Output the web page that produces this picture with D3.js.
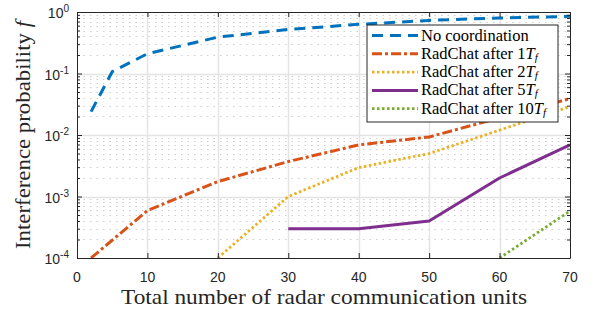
<!DOCTYPE html>
<html>
<head>
<meta charset="utf-8">
<script src="https://cdn.jsdelivr.net/npm/d3@7"></script>
<style>
  body { margin: 0; background: #fff; }
  svg { display: block; }
</style>
</head>
<body>
<div id="chart"></div>
<script>
// series data (x = number of units, y = interference probability)
const noCoordX = [2, 5, 10, 20, 30, 40, 50, 60, 70];
const noCoordY = [0.024, 0.107, 0.21, 0.39, 0.52, 0.63, 0.73, 0.80, 0.85];

const rc1X = [2, 10, 20, 30, 40, 50, 60, 70];
const rc1Y = [1e-4, 5.9e-4, 1.75e-3, 3.7e-3, 6.9e-3, 9.3e-3, 0.019, 0.039];

const rc2X = [20, 30, 40, 50, 60, 70];
const rc2Y = [1e-4, 1.0e-3, 2.95e-3, 5.0e-3, 0.012, 0.029];

const rc5X = [30, 40, 50, 60, 70];
const rc5Y = [3.0e-4, 3.0e-4, 4.0e-4, 2.0e-3, 6.9e-3];

const rc10X = [60, 70];
const rc10Y = [1e-4, 5.8e-4];

const xTicks = [0, 10, 20, 30, 40, 50, 60, 70];
const yExponents = [0, -1, -2, -3, -4];
const legendLabels = ['No coordination', 'RadChat after 1', 'RadChat after 2', 'RadChat after 5', 'RadChat after 10'];

const series = [
  { xs: noCoordX, ys: noCoordY, color: '#0072BD', dash: '11 7', width: 3, label: legendLabels[0], tf: false },
  { xs: rc1X, ys: rc1Y, color: '#D95319', dash: '10 3 3 3', width: 3, label: legendLabels[1], tf: true },
  { xs: rc2X, ys: rc2Y, color: '#EDB120', dash: '2.5 2.5', width: 2.8, label: legendLabels[2], tf: true },
  { xs: rc5X, ys: rc5Y, color: '#7E2F8E', dash: null, width: 3, label: legendLabels[3], tf: true },
  { xs: rc10X, ys: rc10Y, color: '#77AC30', dash: '2.5 2.5', width: 2.8, label: legendLabels[4], tf: true }
];

const W = 592, H = 311;
const margin = { top: 12, right: 22, bottom: 53, left: 77 };
const w = W - margin.left - margin.right;
const h = H - margin.top - margin.bottom;

const x = d3.scaleLinear().domain([0, 70]).range([0, w]);
const y = d3.scaleLog().domain([1e-4, 1]).range([h, 0]);

const svg = d3.select('#chart').append('svg').attr('width', W).attr('height', H);

svg.append('defs').append('clipPath').attr('id', 'plot-clip')
  .append('rect').attr('width', w).attr('height', h);

const g = svg.append('g').attr('transform', `translate(${margin.left},${margin.top})`);

// minor horizontal grid (dotted)
const minorVals = [];
yExponents.slice(1).forEach((e) => {
  for (let k = 2; k <= 9; k++) minorVals.push(k * Math.pow(10, e));
});
g.append('g').selectAll('line').data(minorVals).join('line')
  .attr('x1', 0).attr('x2', w)
  .attr('y1', (d) => Math.round(y(d)) + 0.5).attr('y2', (d) => Math.round(y(d)) + 0.5)
  .attr('stroke', '#cfcfcf').attr('stroke-width', 1).attr('stroke-dasharray', '1.5 5');

// major grid
g.append('g').selectAll('line').data(yExponents.slice(1, -1)).join('line')
  .attr('x1', 0).attr('x2', w)
  .attr('y1', (d) => Math.round(y(Math.pow(10, d))) + 0.5).attr('y2', (d) => Math.round(y(Math.pow(10, d))) + 0.5)
  .attr('stroke', '#e4e4e4').attr('stroke-width', 1.5);
g.append('g').selectAll('line').data(xTicks.slice(1, -1)).join('line')
  .attr('y1', 0).attr('y2', h)
  .attr('x1', (d) => Math.round(x(d)) + 0.5).attr('x2', (d) => Math.round(x(d)) + 0.5)
  .attr('stroke', '#e4e4e4').attr('stroke-width', 1.5);

// lines
const lineGen = d3.line().x((d) => x(d[0])).y((d) => y(d[1]));
const lines = g.append('g').attr('clip-path', 'url(#plot-clip)');
series.forEach((s) => {
  lines.append('path')
    .datum(s.xs.map((v, i) => [v, s.ys[i]]))
    .attr('d', lineGen)
    .attr('fill', 'none')
    .attr('stroke', s.color)
    .attr('stroke-width', s.width)
    .attr('stroke-dasharray', s.dash)
    .attr('stroke-linejoin', 'round');
});

// axes box with inward ticks
const axisColor = '#262626';
const tickLen = 5;
g.append('g').attr('transform', `translate(0,${h})`)
  .call(d3.axisBottom(x).tickValues(xTicks).tickSizeInner(-tickLen).tickSizeOuter(0).tickFormat(''))
  .call((a) => a.selectAll('line,path').attr('stroke', axisColor));
g.append('g')
  .call(d3.axisTop(x).tickValues(xTicks).tickSizeInner(-tickLen).tickSizeOuter(0).tickFormat(''))
  .call((a) => a.selectAll('line,path').attr('stroke', axisColor));

const majorY = yExponents.map((e) => Math.pow(10, e));
g.append('g')
  .call(d3.axisLeft(y).tickValues(majorY).tickSizeInner(-tickLen).tickSizeOuter(0).tickFormat(''))
  .call((a) => a.selectAll('line,path').attr('stroke', axisColor));
g.append('g')
  .call(d3.axisLeft(y).tickValues(minorVals).tickSizeInner(-3).tickSizeOuter(0).tickFormat(''))
  .call((a) => a.select('path').remove())
  .call((a) => a.selectAll('line').attr('stroke', axisColor));
g.append('g').attr('transform', `translate(${w},0)`)
  .call(d3.axisRight(y).tickValues(majorY).tickSizeInner(-tickLen).tickSizeOuter(0).tickFormat(''))
  .call((a) => a.selectAll('line,path').attr('stroke', axisColor));
g.append('g').attr('transform', `translate(${w},0)`)
  .call(d3.axisRight(y).tickValues(minorVals).tickSizeInner(-3).tickSizeOuter(0).tickFormat(''))
  .call((a) => a.select('path').remove())
  .call((a) => a.selectAll('line').attr('stroke', axisColor));

// tick labels
const tickFont = 'Liberation Sans, Arial, sans-serif';
g.append('g').selectAll('text').data(xTicks).join('text')
  .attr('x', (d) => x(d)).attr('y', h + 24)
  .attr('text-anchor', 'middle')
  .attr('font-family', tickFont).attr('font-size', 14).attr('fill', axisColor)
  .text((d) => d);

const yl = g.append('g').selectAll('text').data(yExponents).join('text')
  .attr('x', -8).attr('y', (d) => y(Math.pow(10, d)) + 6)
  .attr('text-anchor', 'end')
  .attr('font-family', tickFont).attr('font-size', 14).attr('fill', axisColor);
yl.append('tspan').text('10');
yl.append('tspan').attr('dy', -6).attr('font-size', 10).text((d) => d === 0 ? '0' : '-' + Math.abs(d));

// axis titles
const serif = 'Liberation Serif, Times New Roman, serif';
svg.append('text')
  .attr('x', 324).attr('y', 304)
  .attr('text-anchor', 'middle')
  .attr('font-family', serif).attr('font-size', 21).attr('fill', axisColor)
  .attr('textLength', 406).attr('lengthAdjust', 'spacingAndGlyphs')
  .text('Total number of radar communication units');

const ylab = svg.append('text')
  .attr('transform', `translate(30,${margin.top + h / 2}) rotate(-90)`)
  .attr('text-anchor', 'middle')
  .attr('font-family', serif).attr('font-size', 21).attr('fill', axisColor)
  .attr('textLength', 228).attr('lengthAdjust', 'spacingAndGlyphs');
ylab.append('tspan').text('Interference probability ');
ylab.append('tspan').attr('font-style', 'italic').text('f');

// legend
const lg = svg.append('g').attr('transform', 'translate(367,25)');
lg.append('rect').attr('width', 191).attr('height', 97)
  .attr('fill', '#fff').attr('stroke', axisColor).attr('stroke-width', 1);
series.forEach((s, i) => {
  const cy = 10.5 + i * 18.3;
  lg.append('line').attr('x1', 5).attr('x2', 51).attr('y1', cy).attr('y2', cy)
    .attr('stroke', s.color).attr('stroke-width', s.width).attr('stroke-dasharray', s.dash);
  const t = lg.append('text').attr('x', 54).attr('y', cy + 5)
    .attr('font-family', serif).attr('font-size', 16.5).attr('fill', '#000');
  t.append('tspan').text(s.label);
  if (s.tf) {
    t.append('tspan').attr('font-style', 'italic').text('T');
    t.append('tspan').attr('font-style', 'italic').attr('font-size', 11).attr('dy', 2).text('f');
  }
});
</script>
</body>
</html>
